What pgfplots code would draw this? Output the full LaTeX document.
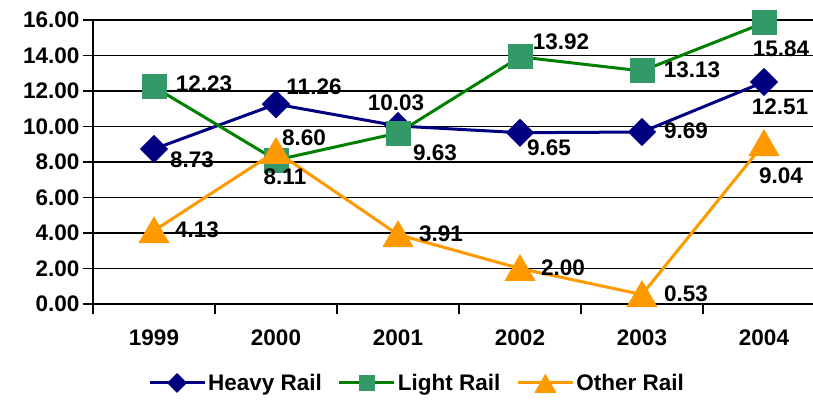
\documentclass[border=0pt]{standalone}
\usepackage{fontspec}
\setmainfont{Liberation Sans}
\usepackage{pgfplots}
\usepackage{pgfplotstable}
\pgfplotsset{compat=1.18}

\definecolor{heavy}{RGB}{0,0,128}
\definecolor{lightl}{RGB}{0,128,0}
\definecolor{lightm}{RGB}{51,153,102}
\definecolor{other}{RGB}{255,153,0}

\newcommand{\chartfont}{\fontsize{22.5bp}{27bp}\selectfont\bfseries}

% x y label dx dy  (dx, dy: label centre relative to the point, bp)
\pgfplotstableread{
x y lab dx dy
0 8.73 8.73 38 -11
1 11.26 11.26 38 17
2 10.03 10.03 -2 23
3 9.65 9.65 29 -15
4 9.69 9.69 44 1
5 12.51 12.51 16 -25
}\heavy

\pgfplotstableread{
x y lab dx dy
0 12.23 12.23 50 3
1 8.11 8.11 9 -17
2 9.63 9.63 37 -20
3 13.92 13.92 41 15
4 13.13 13.13 50 1
5 15.84 15.84 17 -26
}\light

% the triangle marks are moved down 3.5bp, and their labels with them
\pgfplotstableread{
x y lab dx dy
0 4.13 4.13 43 4.5
1 8.60 8.60 28 17.5
2 3.91 3.91 43 4.5
3 2.00 2.00 43 4.5
4 0.53 0.53 44 4.5
5 9.04 9.04 17 -28.5
}\other

\begin{document}
\begin{tikzpicture}
\path[use as bounding box] (0,0) rectangle (813bp,400bp);
\begin{axis}[
    at={(93bp,96bp)}, anchor=south west,
    scale only axis, width=732bp, height=284bp,
    xmin=-0.5, xmax=5.5, ymin=0, ymax=16,
    clip=false,
    axis lines=left,
    axis line style={-, line width=1.5bp, black},
    xtick={-0.5,0.5,...,5.5},
    xticklabels={1999,2000,2001,2002,2003,2004,},
    xticklabel style={xshift=61bp, yshift=-12bp},
    ytick={0,2,...,16},
    ymajorgrids,
    grid style={black, line width=1.5bp},
    tick align=outside,
    major tick length=10bp,
    tick style={black, line width=1.5bp},
    /pgf/number format/assume math mode=true,
    yticklabel style={/pgf/number format/.cd, fixed, fixed zerofill, precision=2},
    tick label style={font=\chartfont},
    point meta=explicit symbolic,
    nodes near coords={\pgfplotspointmeta},
    visualization depends on={\thisrow{dx} \as \dx},
    visualization depends on={\thisrow{dy} \as \dy},
    nodes near coords style={font=\chartfont, anchor=center, inner sep=0pt,
        xshift=\dx*1bp, yshift=\dy*1bp, text=black},
    legend style={at={(axis description cs:0.4426,-0.278)}, anchor=center,
        draw=none, fill=none, font=\chartfont, legend columns=-1,
        /tikz/every even column/.append style={column sep=14bp}},
    legend image code/.code={
        \draw[mark repeat=2, mark phase=2, #1, /tikz/every mark/.append style={scale=0.65}]
        plot coordinates {(0bp,0bp) (27.5bp,0bp) (55bp,0bp)};},
]
\addplot[heavy, line width=3bp, mark=square*, mark size=8.5bp,
    mark options={rotate=45, fill=heavy, draw=heavy, solid}]
    table[x=x, y=y, meta=lab] {\heavy};
\addlegendentry{Heavy Rail}
\addplot[lightl, line width=3bp, mark=square*, mark size=12bp,
    mark options={fill=lightm, draw=lightm, line width=1bp}]
    table[x=x, y=y, meta=lab] {\light};
\addlegendentry{Light Rail}
\addplot[other, line width=3bp, mark=triangle*, mark size=15bp,
    mark options={fill=other, draw=other, yshift=-3.5bp}]
    table[x=x, y=y, meta=lab] {\other};
\addlegendentry{Other Rail}
\end{axis}
\end{tikzpicture}
\end{document}
